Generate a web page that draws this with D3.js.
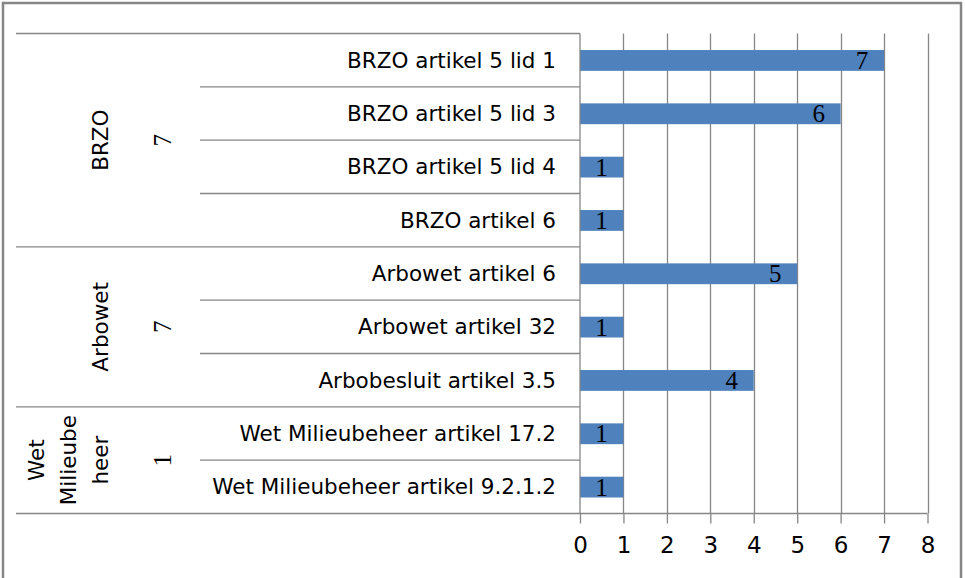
<!DOCTYPE html>
<html>
<head>
<meta charset="utf-8">
<script src="https://cdn.jsdelivr.net/npm/d3@7"></script>
<style>
  body { margin: 0; background: #fff; }
  svg text { fill: #000; }
</style>
</head>
<body>
<script>
var groups = ["BRZO", "Arbowet", "Wet Milieubeheer"];
var groupLines = [["BRZO"], ["Arbowet"], ["Wet", "Milieube", "heer"]];
var groupTotals = [7, 7, 1];
var categories = [
    "BRZO artikel 5 lid 1",
    "BRZO artikel 5 lid 3",
    "BRZO artikel 5 lid 4",
    "BRZO artikel 6",
    "Arbowet artikel 6",
    "Arbowet artikel 32",
    "Arbobesluit artikel 3.5",
    "Wet Milieubeheer artikel 17.2",
    "Wet Milieubeheer artikel 9.2.1.2"
];
var categoryGroup = [0, 0, 0, 0, 1, 1, 1, 2, 2];
var values = [7, 6, 1, 1, 5, 1, 4, 1, 1];
var xTicks = [0, 1, 2, 3, 4, 5, 6, 7, 8];

var W = 965, H = 578;
var grey = "#868686";
var sans = "DejaVu Sans";
var serif = "Liberation Serif";

var svg = d3.select("body")
        .append("svg")
        .attr("width", W)
        .attr("height", H);

// outer chart border
svg.append("rect")
    .attr("x", 3)
    .attr("y", 3)
    .attr("width", 958)
    .attr("height", 600)
    .attr("fill", "none")
    .attr("stroke", grey)
    .attr("stroke-width", 2.5);

var x = d3.scaleLinear().domain([0, 8]).range([580, 927.5]);
var y = d3.scaleBand().domain(d3.range(categories.length)).range([33.5, 513.5]);

// grid lines
svg.selectAll(".grid")
    .data(xTicks.slice(1))
    .enter()
    .append("line")
    .attr("class", "grid")
    .attr("x1", d => Math.round(x(d)) + 0.5)
    .attr("x2", d => Math.round(x(d)) + 0.5)
    .attr("y1", y.range()[0])
    .attr("y2", y.range()[1])
    .attr("stroke", grey)
    .attr("stroke-width", 1.3);

// bars
svg.selectAll(".bar")
    .data(values)
    .enter()
    .append("rect")
    .attr("class", "bar")
    .attr("x", x(0))
    .attr("y", (d, i) => y(i) + y.bandwidth() * 0.31)
    .attr("width", d => x(d) - x(0))
    .attr("height", y.bandwidth() * 0.39)
    .attr("fill", "#4f81bd");

// data labels
svg.selectAll(".val")
    .data(values)
    .enter()
    .append("text")
    .attr("class", "val")
    .attr("x", d => x(d) - 22)
    .attr("y", (d, i) => y(i) + y.bandwidth() / 2)
    .attr("dy", "0.35em")
    .attr("text-anchor", "middle")
    .attr("font-family", serif)
    .attr("font-size", 25)
    .text(d => d);

// x axis
var xAxis = d3.axisBottom(x)
    .tickValues(xTicks)
    .tickSize(10)
    .tickPadding(13)
    .tickFormat(d3.format("d"));

var gx = svg.append("g")
    .attr("transform", "translate(0," + y.range()[1] + ")")
    .call(xAxis);
gx.select(".domain").remove();
gx.selectAll(".tick line").attr("stroke", grey).attr("stroke-width", 1.3);
gx.selectAll(".tick text")
    .attr("font-family", sans)
    .attr("font-size", 23)
    .attr("fill", "#000");

// bottom axis line (spans category area too)
svg.append("line")
    .attr("x1", 16)
    .attr("x2", x(8))
    .attr("y1", y.range()[1])
    .attr("y2", y.range()[1])
    .attr("stroke", grey)
    .attr("stroke-width", 1.3);

// vertical axis line
svg.append("line")
    .attr("x1", x(0))
    .attr("x2", x(0))
    .attr("y1", y.range()[0])
    .attr("y2", y.range()[1])
    .attr("stroke", grey)
    .attr("stroke-width", 1.3);

// category separators
var bounds = d3.range(categories.length);
svg.selectAll(".sep")
    .data(bounds)
    .enter()
    .append("line")
    .attr("class", "sep")
    .attr("x1", i => (i === 0 || categoryGroup[i] !== categoryGroup[i - 1]) ? 16 : 200)
    .attr("x2", x(0))
    .attr("y1", i => y(i))
    .attr("y2", i => y(i))
    .attr("stroke", grey)
    .attr("stroke-width", 1.3);

// category labels
svg.selectAll(".cat")
    .data(categories)
    .enter()
    .append("text")
    .attr("class", "cat")
    .attr("x", 556)
    .attr("y", (d, i) => y(i) + y.bandwidth() / 2)
    .attr("dy", "0.35em")
    .attr("text-anchor", "end")
    .attr("font-family", sans)
    .attr("font-size", 21.5)
    .text(d => d);

// group extents
function groupCenter(g) {
    var idx = categoryGroup.map((c, i) => c === g ? i : -1).filter(i => i >= 0);
    return (y(idx[0]) + y(idx[idx.length - 1]) + y.bandwidth()) / 2;
}

var gg = svg.selectAll(".grp")
    .data(groups)
    .enter()
    .append("g")
    .attr("class", "grp");

gg.each(function(name, g) {
    var cy = groupCenter(g);
    var lines = groupLines[g];
    var sel = d3.select(this);
    lines.forEach(function(line, k) {
        var cx = 100 - (lines.length - 1 - k) * 32;
        sel.append("text")
            .attr("transform", "translate(" + cx + "," + cy + ") rotate(-90)")
            .attr("dy", "0.35em")
            .attr("text-anchor", "middle")
            .attr("font-family", sans)
            .attr("font-size", 21.5)
            .text(line);
    });
    sel.append("text")
        .attr("transform", "translate(162," + cy + ") rotate(-90)")
        .attr("dy", "0.35em")
        .attr("text-anchor", "middle")
        .attr("font-family", serif)
        .attr("font-size", 25)
        .text(groupTotals[g]);
});
</script>
</body>
</html>
